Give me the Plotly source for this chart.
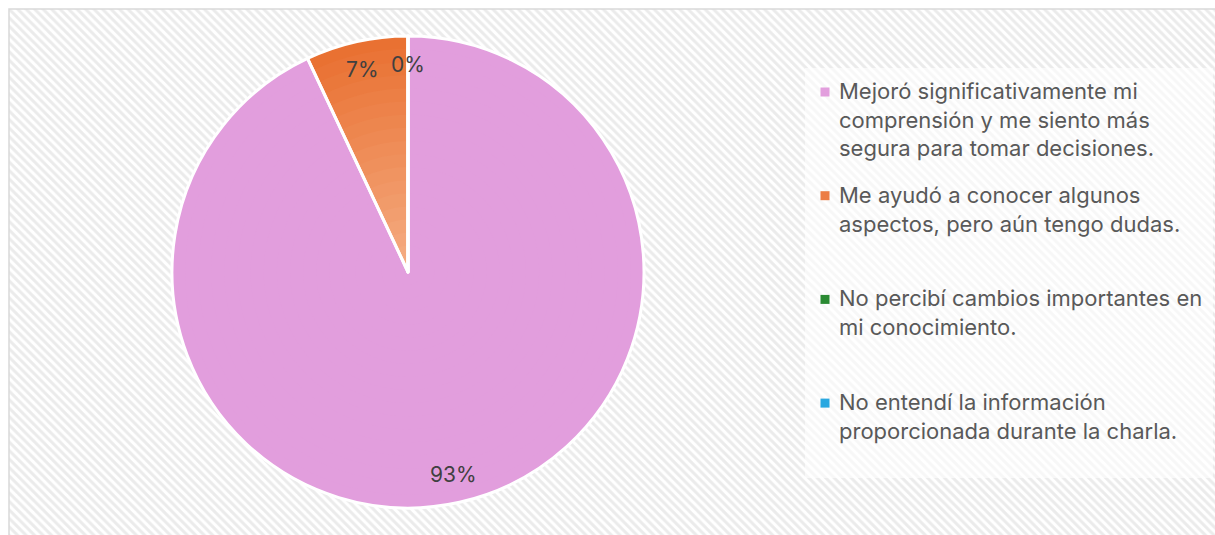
import math
import plotly.graph_objects as go

# ---- data ----
categories = [
    "Mejoró significativamente mi<br>comprensión y me siento más<br>segura para tomar decisiones.",
    "Me ayudó a conocer algunos<br>aspectos, pero aún tengo dudas.",
    "No percibí cambios importantes en<br>mi conocimiento.",
    "No entendí la información<br>proporcionada durante la charla.",
]
values = [93, 7, 0, 0]
# outer (dark) and inner (light) shade of each slice, for the gradient fill
colors_outer = [(226, 158, 221), (233, 113, 50), (25, 107, 36), (15, 158, 213)]
colors_inner = [(226, 158, 221), (245, 172, 130), (70, 160, 80), (90, 190, 235)]
legend_colors = ["#E29EDD", "#EC7D45", "#2A8A33", "#2AA8E0"]

W, H = 1215, 535
FONT = "Inter"

# pie geometry (pixels)
cx, cy, R = 408, 272, 236

fig = go.Figure()

# hatched background (decoration)
fig.add_trace(go.Scatter(
    x=[9 / W, 1.01, 1.01, 9 / W, 9 / W],
    y=[-0.01, -0.01, 1 - 9 / H, 1 - 9 / H, -0.01],
    mode="lines", fill="toself", line=dict(color="#D9D9D9", width=1.5),
    fillcolor="white",
    fillpattern=dict(shape="\\", size=6, solidity=0.5, fgcolor="#D8D8D8", bgcolor="white"),
    hoverinfo="skip", showlegend=False,
))

# lighter legend area (decoration)
lx0, lx1, ly0, ly1 = 805 / W, 1213 / W, 1 - 478 / H, 1 - 68 / H
fig.add_trace(go.Scatter(
    x=[lx0, lx1, lx1, lx0, lx0], y=[ly0, ly0, ly1, ly1, ly0],
    mode="lines", fill="toself", line=dict(width=0),
    fillcolor="rgba(255,255,255,0.6)", hoverinfo="skip", showlegend=False,
))

flat_labels = [c.replace("<br>", " ") for c in categories]


def pie_domain(r):
    return dict(x=[(cx - r) / W, (cx + r) / W], y=[(H - cy - r) / H, (H - cy + r) / H])


# gradient: concentric copies of the same pie, lighter toward the centre
N = 18
for k in range(N):
    t = k / (N - 1)
    r = R * (1 - k / N)
    cols = []
    for co, ci in zip(colors_outer, colors_inner):
        rgb = tuple(round(co[j] + (ci[j] - co[j]) * t) for j in range(3))
        cols.append("rgb(%d,%d,%d)" % rgb)
    fig.add_trace(go.Pie(
        labels=flat_labels, values=values, sort=False,
        direction="clockwise", rotation=0,
        marker=dict(colors=cols, line=dict(width=0)),
        textinfo="none", hoverinfo="skip" if k else "label+percent",
        domain=pie_domain(r), showlegend=False,
    ))

# white slice outlines on top
fig.add_trace(go.Pie(
    labels=flat_labels, values=values, sort=False,
    direction="clockwise", rotation=0,
    marker=dict(colors=["rgba(0,0,0,0)"] * len(values), line=dict(color="white", width=3)),
    textinfo="none", hoverinfo="label+percent",
    domain=pie_domain(R), showlegend=False,
))

# data labels placed at slice mid-angles computed from the values
total = sum(values)
cum = 0
seen = set()
for v in values:
    mid = (cum + v / 2) / total * 2 * math.pi
    cum += v
    f = 0.88
    px = cx + R * f * math.sin(mid)
    py = cy - R * f * math.cos(mid)
    pct = round(v / total * 100)
    key = (pct, round(px), round(py))
    if key in seen:  # identical labels stacked on each other show as one
        continue
    seen.add(key)
    fig.add_annotation(x=px / W, y=1 - py / H, xref="paper", yref="paper",
                       xanchor="center", yanchor="middle",
                       text=f"{pct}%", showarrow=False,
                       font=dict(family=FONT, size=21, color="#404040"))

# legend (entries spaced evenly like the original)
slot = 103.7
first_sym_y = 92
sym_x = 825
text_x = 837
leg_x = [sym_x / W] * len(categories)
leg_y = [1 - (first_sym_y + i * slot) / H for i in range(len(categories))]
fig.add_trace(go.Scatter(
    x=leg_x, y=leg_y, mode="markers",
    marker=dict(symbol="square", size=9, color=legend_colors, line=dict(width=0)),
    hoverinfo="skip", showlegend=False,
))
for i, c in enumerate(categories):
    fig.add_annotation(x=text_x / W, y=1 - (first_sym_y - 16 + i * slot) / H,
                       xref="paper", yref="paper", xanchor="left", yanchor="top",
                       align="left", text=c, showarrow=False,
                       font=dict(family=FONT, size=22, color="#595959"))

fig.update_layout(
    width=W, height=H, margin=dict(l=0, r=0, t=0, b=0),
    paper_bgcolor="white", plot_bgcolor="rgba(0,0,0,0)",
    xaxis=dict(range=[0, 1], domain=[0, 1], visible=False, fixedrange=True),
    yaxis=dict(range=[0, 1], domain=[0, 1], visible=False, fixedrange=True),
    showlegend=False,
)

fig.write_html("out.html", config={"displayModeBar": False},
               post_script="document.body.style.margin='0';document.body.style.overflow='hidden';")
